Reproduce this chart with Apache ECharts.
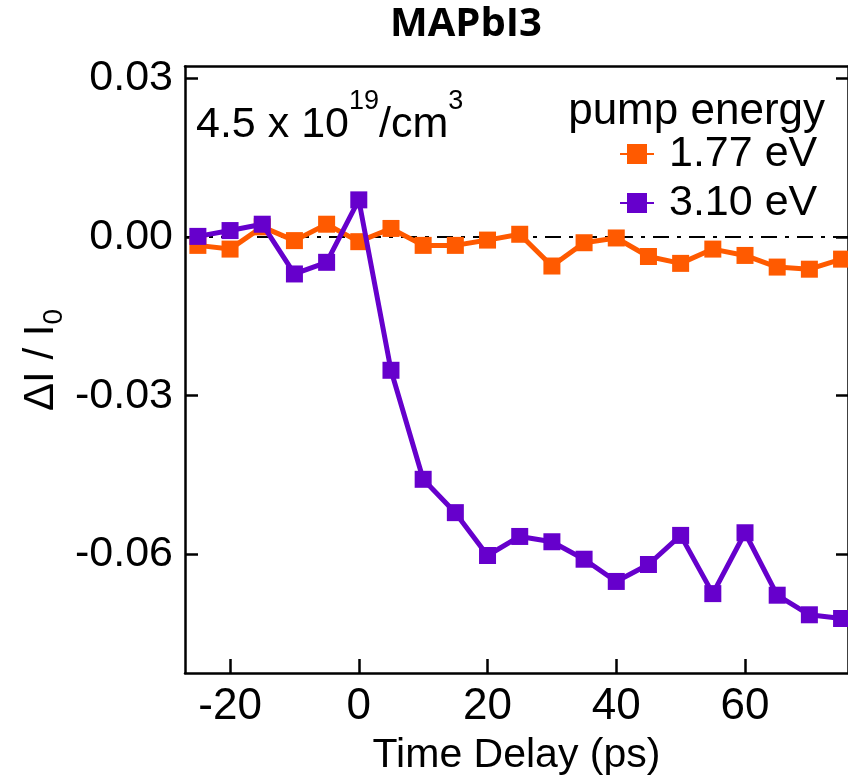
<!DOCTYPE html>
<html>
<head>
<meta charset="utf-8">
<script src="https://cdn.jsdelivr.net/npm/echarts@6/dist/echarts.min.js"></script>
<style>
html,body{margin:0;padding:0;background:#fff;}
#chart{width:848px;height:784px;}
</style>
</head>
<body>
<div id="chart"></div>
<script>
// ---- data ----
const delays = [-25,-20,-15,-10,-5,0,5,10,15,20,25,30,35,40,45,50,55,60,65,70,75];
const series177 = [-0.0016,-0.0023,0.0019,-0.0007,0.0024,-0.0009,0.0016,-0.0016,-0.0016,-0.0006,0.0005,-0.0055,-0.0011,-0.0002,-0.0037,-0.0050,-0.0023,-0.0035,-0.0057,-0.0061,-0.0042];
const series310 = [0.0001,0.0012,0.0024,-0.0070,-0.0048,0.0070,-0.0252,-0.0458,-0.0521,-0.0602,-0.0566,-0.0576,-0.0609,-0.0651,-0.0619,-0.0564,-0.0674,-0.0559,-0.0677,-0.0714,-0.0721];
const seriesNames = ['1.77 eV','3.10 eV'];
const xTicks = [-20,0,20,40,60];
const yTicks = [-0.06,-0.03,0,0.03];
const titleText = 'MAPbI3';
const xName = 'Time Delay (ps)';
const legendTitle = 'pump energy';

const FONT = '"Liberation Sans", Arial, sans-serif';
const ORANGE = '#FF5A00';
const PURPLE = '#6600CC';

const pairs = (ys) => delays.map((x, i) => [x, ys[i]]);

const chart = echarts.init(document.getElementById('chart'), null, {renderer: 'canvas'});

const axisLineStyle = {color: '#000', width: 2.5};

chart.setOption({
  backgroundColor: '#fff',
  animation: false,
  grid: {left: 185, top: 66.5, width: 671, height: 606.5, containLabel: false},
  xAxis: [{
    type: 'value', min: -27, max: 76, position: 'bottom',
    axisLine: {show: true, onZero: false, lineStyle: axisLineStyle},
    axisTick: {show: true, inside: true, length: 14, lineStyle: axisLineStyle, customValues: xTicks},
    axisLabel: {show: true, margin: 12, fontSize: 44, color: '#000', fontFamily: FONT, customValues: xTicks, formatter: v => String(v)},
    splitLine: {show: false},
    name: xName, nameLocation: 'middle', nameGap: 62,
    nameTextStyle: {fontSize: 41, color: '#000', fontFamily: FONT}
  }, {
    type: 'value', min: -27, max: 76, position: 'top',
    axisLine: {show: true, onZero: false, lineStyle: axisLineStyle},
    axisTick: {show: false}, axisLabel: {show: false}, splitLine: {show: false}
  }],
  yAxis: [{
    type: 'value', min: -0.0824, max: 0.0322, position: 'left',
    axisLine: {show: true, onZero: false, lineStyle: axisLineStyle},
    axisTick: {show: true, inside: true, length: 13, lineStyle: axisLineStyle, customValues: yTicks},
    axisLabel: {show: true, margin: 12, fontSize: 43, color: '#000', fontFamily: FONT, customValues: yTicks, formatter: v => v.toFixed(2)},
    splitLine: {show: false}
  }, {
    type: 'value', min: -0.0824, max: 0.0322, position: 'right',
    axisLine: {show: true, onZero: false, lineStyle: axisLineStyle},
    axisTick: {show: true, inside: true, length: 12, lineStyle: axisLineStyle, customValues: yTicks},
    axisLabel: {show: false}, splitLine: {show: false}
  }],
  legend: {
    data: seriesNames, orient: 'vertical', left: 619, top: 129.5, align: 'left',
    itemWidth: 34, itemHeight: 25, itemGap: 0, padding: 0,
    textStyle: {fontSize: 43, color: '#000', fontFamily: FONT, lineHeight: 49, padding: [0,0,0,10]},
    selectedMode: false
  },
  graphic: [
    {type: 'text', left: 390, top: 5, style: {text: titleText, font: 'bold 40px "Open Sans", sans-serif', fill: '#000'}},
    {type: 'text', x: 825, y: 112, style: {text: legendTitle, font: '44px ' + FONT, fill: '#000', align: 'right', verticalAlign: 'middle'}},
    {type: 'text', x: 196, y: 88.5, style: {
      text: '{a|4.5 x 10}{s|19}{a|/cm}{s|3}', align: 'left', verticalAlign: 'top',
      rich: {
        a: {fontSize: 43, fontFamily: FONT, lineHeight: 43, padding: [15,0,0,0], verticalAlign: 'top', color: '#000'},
        s: {fontSize: 27, fontFamily: FONT, lineHeight: 27, verticalAlign: 'top', color: '#000'}
      }
    }},
    {type: 'text', x: 41, y: 360, rotation: Math.PI / 2, style: {
      text: '{a|ΔI / I}{s|0}', align: 'center', verticalAlign: 'middle',
      rich: {
        a: {fontSize: 42, fontFamily: FONT, lineHeight: 42, verticalAlign: 'top', color: '#000'},
        s: {fontSize: 28, fontFamily: FONT, lineHeight: 28, padding: [20,0,0,0], verticalAlign: 'top', color: '#000'}
      }
    }}
  ],
  series: [{
    name: seriesNames[0], type: 'line', data: pairs(series177),
    symbol: 'rect', symbolSize: 17, showAllSymbol: true,
    lineStyle: {color: ORANGE, width: 5}, itemStyle: {color: ORANGE},
    z: 3,
    markLine: {
      silent: true, symbol: ['none','none'], label: {show: false},
      lineStyle: {color: '#000', width: 2, type: [16,8,4,8]},
      data: [{yAxis: 0}], z: 1
    }
  }, {
    name: seriesNames[1], type: 'line', data: pairs(series310),
    symbol: 'rect', symbolSize: 17, showAllSymbol: true,
    lineStyle: {color: PURPLE, width: 5}, itemStyle: {color: PURPLE},
    z: 4
  }]
});
</script>
</body>
</html>
